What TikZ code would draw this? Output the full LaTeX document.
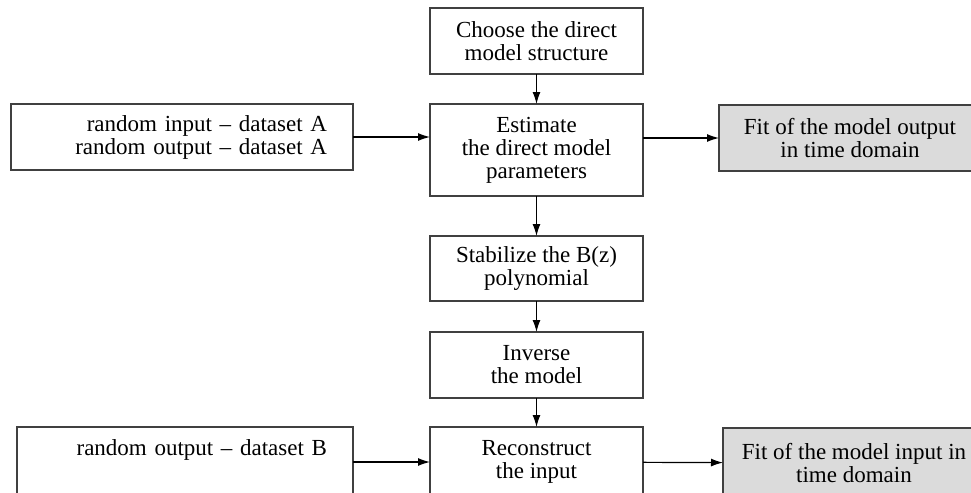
\documentclass[tikz,border=0pt]{standalone}
\usepackage{fontspec}
\setmainfont{Liberation Serif}
\usetikzlibrary{arrows.meta}
\begin{document}
\begin{tikzpicture}[x=0.5pt,y=-0.5pt,
                    line width=0.6pt,>={Latex[length=6pt,width=4pt]},
                    main node/.style={rectangle,draw=black!75,align=center,inner sep=0pt,outer sep=0pt,
                                      minimum width=106.5pt,minimum height=33pt,
                                      font=\fontsize{11.5}{11.5}\selectfont},
                    fit node/.style={main node,fill=black!14,minimum width=131pt},
                    data node/.style={main node,align=right,inner xsep=13pt}
                   ]
               \clip (0,0) rectangle (971,493);
               \node[main node] (1) at (536.5,41) {Choose the direct\\model structure};
               \node[main node,minimum height=46pt] (2) at (536.5,150) {Estimate\\the direct model\\parameters};
               \node[main node,minimum height=32.5pt] (3) at (536.5,268.5) {Stabilize the B(z)\\polynomial};
               \node[main node] (4) at (536.5,365) {Inverse\\the model};
               \node[main node,minimum height=35pt] (5) at (536.5,462) {Reconstruct\\the input};
               \node[data node,text width=145pt] (A) at (182,137) {random input -- dataset A\\random output -- dataset A};
               \node[data node,text width=142pt,minimum height=35pt] (B) at (185,462) {random output -- dataset B\\\strut};
               \node[fit node] (F) at (850,138) {Fit of the model output\\in time domain};
               \node[fit node,minimum height=35pt] (G) at (854,463) {Fit of the model input in\\time domain};
               \path[->]%
                 (1) edge (2)
                 (2) edge (3)
                 (3) edge (4)
                 (4) edge (5)
                 (A) edge (A -| 2.west)  % into the side of the tall box
                 (2.east |- F) edge (F)
                 (B) edge (5)
                 (5) edge (G);
           \end{tikzpicture}
\end{document}
